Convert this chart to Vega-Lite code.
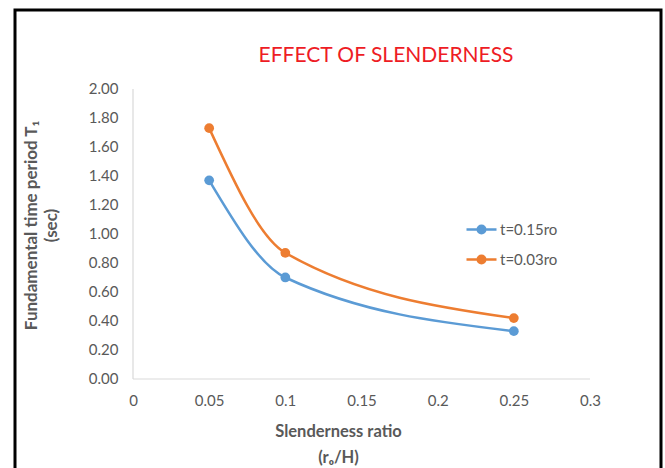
{
  "$schema": "https://vega.github.io/schema/vega-lite/v6.json",
  "description": "Fundamental time period against slenderness ratio for two wall thicknesses, drawn inside a black chart frame.",
  "width": 646,
  "height": 462,
  "autosize": {"type": "none"},
  "padding": {"left": 15, "top": 10, "right": 4, "bottom": 0},
  "background": "white",
  "config": {
    "font": "Lato",
    "view": {"stroke": "black", "strokeWidth": 3},
    "axis": {
      "grid": false,
      "domain": false,
      "ticks": false,
      "tickSize": 0,
      "labelColor": "#595959",
      "labelFontSize": 15,
      "titleColor": "#595959",
      "titleFontWeight": "bold"
    }
  },
  "title": {
    "text": "EFFECT OF SLENDERNESS",
    "color": "#ee1c25",
    "fontSize": 21,
    "fontWeight": "normal",
    "font": "Lato",
    "anchor": "middle",
    "frame": "group",
    "baseline": "alphabetic",
    "dx": 48,
    "offset": -73
  },
  "datasets": {
    "periods": [
      {"ratio": 0.05, "period": 1.37, "series": "t=0.15ro"},
      {"ratio": 0.1, "period": 0.7, "series": "t=0.15ro"},
      {"ratio": 0.25, "period": 0.33, "series": "t=0.15ro"},
      {"ratio": 0.05, "period": 1.73, "series": "t=0.03ro"},
      {"ratio": 0.1, "period": 0.87, "series": "t=0.03ro"},
      {"ratio": 0.25, "period": 0.42, "series": "t=0.03ro"}
    ],
    "axisLines": [
      {"ratio": 0, "ratio2": 0.3, "period": 0, "period2": 0},
      {"ratio": 0, "ratio2": 0, "period": 0, "period2": 2}
    ]
  },
  "encoding": {
    "x": {
      "field": "ratio",
      "type": "quantitative",
      "scale": {"domain": [-0.07746, 0.34661], "nice": false, "zero": false},
      "axis": {
        "values": [0, 0.05, 0.1, 0.15, 0.2, 0.25, 0.3],
        "format": "~g",
        "offset": -93,
        "labelPadding": 14,
        "title": ["Slenderness ratio", "(rₒ/H)"],
        "titleFontSize": 16.5,
        "titlePadding": 15,
        "titleLineHeight": 26
      }
    },
    "y": {
      "field": "period",
      "type": "quantitative",
      "scale": {"domain": [-0.6414, 2.5448], "nice": false, "zero": false},
      "axis": {
        "values": [0, 0.2, 0.4, 0.6, 0.8, 1, 1.2, 1.4, 1.6, 1.8, 2],
        "format": ".2f",
        "offset": -118,
        "labelPadding": 15,
        "title": ["Fundamental time period T₁", "(sec)"],
        "titleFontSize": 17,
        "titlePadding": 28,
        "titleY": 215,
        "titleLineHeight": 20
      }
    }
  },
  "layer": [
    {
      "data": {"name": "axisLines"},
      "mark": {"type": "rule", "color": "#d9d9d9", "strokeWidth": 1.2},
      "encoding": {
        "x2": {"field": "ratio2"},
        "y2": {"field": "period2"}
      }
    },
    {
      "data": {"name": "periods"},
      "mark": {"type": "line", "interpolate": "monotone", "strokeWidth": 2.5},
      "encoding": {
        "color": {
          "field": "series",
          "type": "nominal",
          "scale": {"domain": ["t=0.15ro", "t=0.03ro"], "range": ["#5b9bd5", "#ed7d31"]},
          "legend": {
            "title": null,
            "orient": "none",
            "legendX": 450,
            "legendY": 203,
            "padding": 0,
            "symbolType": "M-1,0L-0.25,0M0.25,0L1,0M-0.25,0A0.25,0.25,0,1,1,0.25,0A0.25,0.25,0,1,1,-0.25,0Z",
            "symbolSize": 900,
            "symbolStrokeWidth": 2.5,
            "labelFontSize": 15,
            "labelColor": "#595959",
            "labelOffset": 2,
            "rowPadding": 4,
            "symbolOffset": 0,
            "encode": {
              "symbols": {
                "update": {
                  "fill": {"scale": "color", "field": "value"},
                  "stroke": {"scale": "color", "field": "value"},
                  "opacity": {"value": 1}
                }
              }
            }
          }
        }
      }
    },
    {
      "data": {"name": "periods"},
      "mark": {"type": "point", "filled": true, "size": 95, "opacity": 1},
      "encoding": {
        "color": {"field": "series", "type": "nominal"}
      }
    }
  ]
}
